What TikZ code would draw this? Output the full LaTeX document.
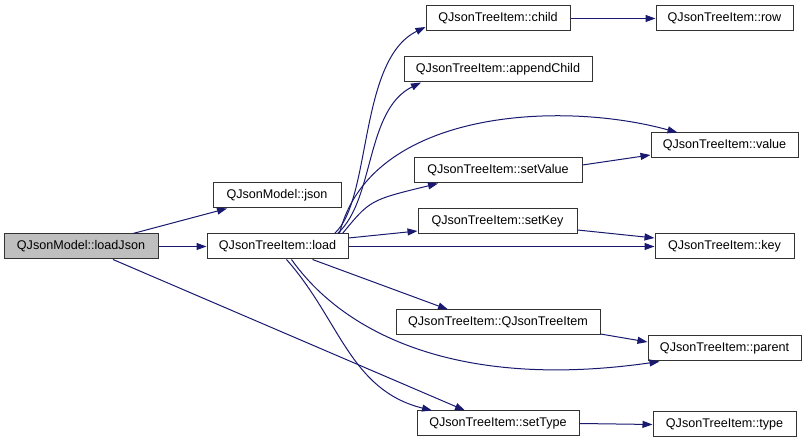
\documentclass[tikz,border=0pt]{standalone}
\usepackage{fontspec}
\setmainfont{Liberation Sans}
\usetikzlibrary{arrows.meta}
\definecolor{edgeblue}{RGB}{25,25,112}
\definecolor{boxgray}{RGB}{191,191,191}
\begin{document}
\begin{tikzpicture}[x=1pt, y=-1pt,
    >={Triangle[length=10pt, width=7pt]},
    fn/.style={draw=black!80, line width=1pt, inner sep=0pt, minimum height=25pt,
        font=\fontsize{12.6}{14}\selectfont},
    call/.style={->, edgeblue, line width=1pt}]
    \useasboundingbox (0,0) rectangle (807,443);

    % Funzioni
    \node[fn, fill=boxgray, minimum width=154pt] (loadJson) at (81,246.5) {QJsonModel::loadJson};
    \node[fn, minimum width=128pt] (json) at (277,195.5) {QJsonModel::json};
    \node[fn, minimum width=141pt] (load) at (277.5,246.5) {QJsonTreeItem::load};
    \node[fn, minimum width=144pt] (child) at (498,18.5) {QJsonTreeItem::child};
    \node[fn, minimum width=188pt] (appendChild) at (498,69.5) {QJsonTreeItem::appendChild};
    \node[fn, minimum width=168pt] (setValue) at (498,170.5) {QJsonTreeItem::setValue};
    \node[fn, minimum width=159pt] (setKey) at (497.5,221.5) {QJsonTreeItem::setKey};
    \node[fn, minimum width=204pt] (ctor) at (498,322.5) {QJsonTreeItem::QJsonTreeItem};
    \node[fn, minimum width=162pt] (setType) at (498,423.5) {QJsonTreeItem::setType};
    \node[fn, minimum width=137pt] (row) at (724.5,18.5) {QJsonTreeItem::row};
    \node[fn, minimum width=147pt] (value) at (724.5,145.5) {QJsonTreeItem::value};
    \node[fn, minimum width=139pt] (key) at (724.5,246.5) {QJsonTreeItem::key};
    \node[fn, minimum width=153pt] (parent) at (724.5,348.5) {QJsonTreeItem::parent};
    \node[fn, minimum width=143pt] (type) at (724.5,424.5) {QJsonTreeItem::type};

    % Chiamate da loadJson
    \draw[call] ([xshift=52pt]loadJson.north) -- ([xshift=-50pt]json.south);
    \draw[call] (loadJson.east) -- (load.west);
    \draw[call] ([xshift=32pt]loadJson.south) -- ([xshift=-33pt]setType.north);

    % Chiamate da load
    \draw[call] ([xshift=57pt]load.north) .. controls (372,200) and (358,60) .. ([yshift=-8.5pt]child.west);
    \draw[call] ([xshift=60pt]load.north) .. controls (375,200) and (365,110) .. ([xshift=-77pt]appendChild.south);
    \draw[call] ([xshift=62pt]load.north) .. controls (370,110) and (560,100) .. ([xshift=-47pt]value.north);
    \draw[call] ([xshift=65pt]load.north) .. controls (370,200) .. ([xshift=-60pt]setValue.south);
    \draw[call] ([yshift=8.5pt]load.east) -- ([yshift=-9.5pt]setKey.west);
    \draw[call] (load.east) -- (key.west);
    \draw[call] ([xshift=35pt]load.south) -- ([xshift=-50pt]ctor.north);
    \draw[call] ([xshift=14pt]load.south) .. controls (345,335) and (460,390) .. ([xshift=-65pt]parent.south);
    \draw[call] ([xshift=9pt]load.south) .. controls (340,320) and (350,390) .. ([xshift=-66pt]setType.north);

    % Chiamate di secondo livello
    \draw[call] (child.east) -- (row.west);
    \draw[call] ([yshift=5.5pt]setValue.east) -- ([yshift=-9.5pt]value.west);
    \draw[call] ([yshift=-8.5pt]setKey.east) -- ([yshift=8.5pt]key.west);
    \draw[call] ([yshift=-11.5pt]ctor.east) -- ([yshift=6.5pt]parent.west);
    \draw[call] (setType.east) -- (type.west);
\end{tikzpicture}
\end{document}
